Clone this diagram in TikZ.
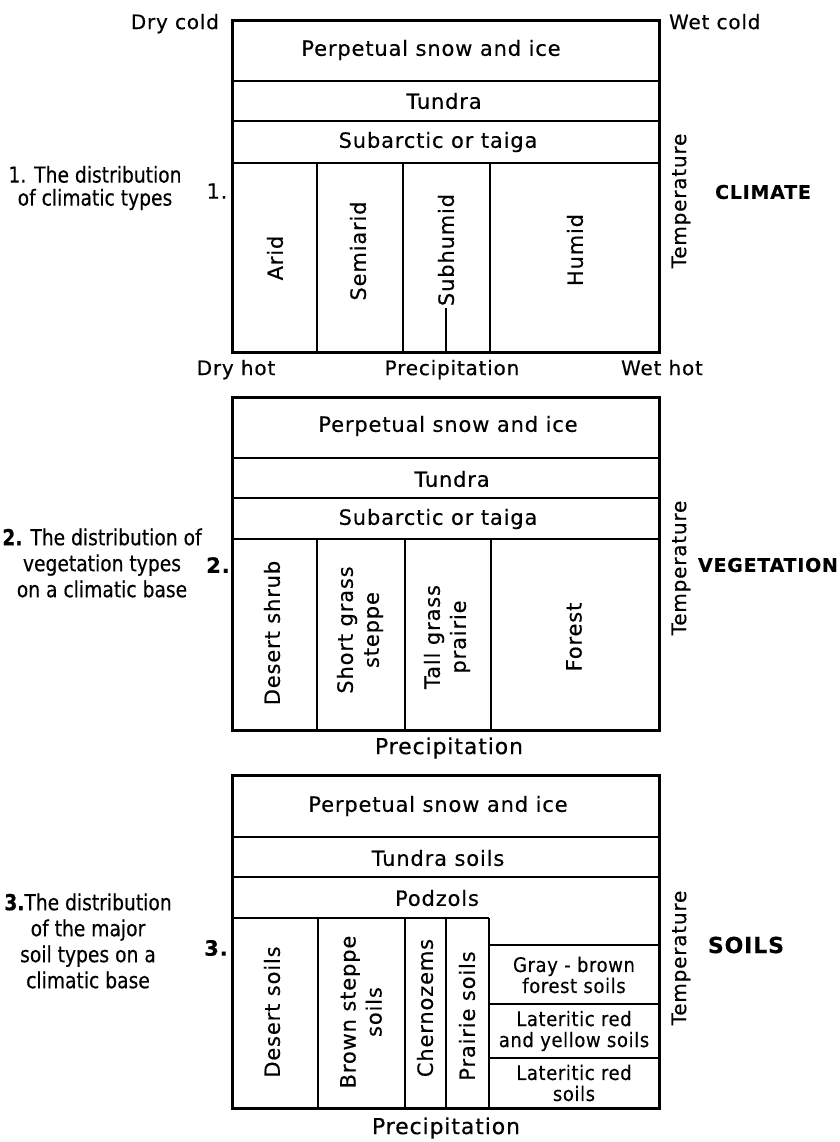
\documentclass[tikz,border=0pt]{standalone}
\usepackage{fontspec}
\setmainfont[LetterSpace=4,FakeBold=0.4]{DejaVu Sans}
\newfontfamily\sidefont[FakeStretch=0.85,FakeBold=0.4]{DejaVu Sans}
\newfontfamily\boxfont[FakeStretch=0.9,LetterSpace=3,FakeBold=0.4]{DejaVu Sans}
\tikzset{
  frame/.style={line width=1.5pt},
  divide/.style={line width=1pt},
  band/.style={font=\fontsize{10.5}{13}\selectfont},
  upright/.style={rotate=90,align=center,font=\fontsize{10.5}{13}\selectfont},
  axis/.style={font=\fontsize{10}{12}\selectfont,text height=1.6ex,text depth=.3ex},
  precip/.style={font=\fontsize{11}{13}\selectfont},
  caption/.style={align=center,font=\sidefont\fontsize{11}{13}\selectfont},
  heading/.style={font=\bfseries\fontsize{9.5}{11}\selectfont},
  soilbox/.style={align=center,font=\boxfont\fontsize{10}{10.5}\selectfont},
}
\begin{document}
\begin{tikzpicture}[x=0.5pt,y=-0.5pt]
	\useasboundingbox (0,0) rectangle (840,1142);
	\draw[frame] (232,20) rectangle (659,352);
	\draw[divide] (232,81)--(659,81) (232,121)--(659,121) (232,163)--(659,163);
	\draw[divide] (317,163)--(317,352) (403,163)--(403,352) (490,163)--(490,352);
	\draw[divide] (446,192)--(446,352);
	\node[band] (snow1) at (431,50) {Perpetual snow and ice};
	\node[band] (tundra1) at (444,101) {Tundra};
	\node[band] (taiga1) at (438,142) {Subarctic or taiga};
	\node[upright] (arid) at (275,258) {Arid};
	\node[upright] (semiarid) at (358,251) {Semiarid};
	\node[upright,fill=white,inner sep=1pt] (subhumid) at (446,250) {Subhumid};
	\node[upright] (humid) at (575,250) {Humid};
	\node[axis,anchor=east] (drycold) at (226,22) {Dry cold};
	\node[axis,anchor=west] (wetcold) at (662,22) {Wet cold};
	\node[axis] (dryhot) at (236,368) {Dry hot};
	\node[axis] (wethot) at (662,368) {Wet hot};
	\node[axis] (precip1) at (452,368) {Precipitation};
	\node[axis,rotate=90] (temp1) at (679,201) {Temperature};
	\node[heading] (climate) at (763,192) {CLIMATE};
	\node[band] (num1) at (217,191) {1.};
	\node[caption,font=\sidefont\fontsize{11}{11.5}\selectfont] (cap1) at (95,188) {1. The distribution\\of climatic types};

	\draw[frame] (232,397) rectangle (659,730);
	\draw[divide] (232,458)--(659,458) (232,498)--(659,498) (232,539)--(659,539);
	\draw[divide] (317,539)--(317,730) (405,539)--(405,730) (491,539)--(491,730);
	\node[band] (snow2) at (448,426) {Perpetual snow and ice};
	\node[band] (tundra2) at (452,479) {Tundra};
	\node[band] (taiga2) at (438,519) {Subarctic or taiga};
	\node[upright] (shrub) at (272,633) {Desert shrub};
	\node[upright] (steppe) at (360,630) {Short grass\\steppe};
	\node[upright] (prairie) at (447,637) {Tall grass\\prairie};
	\node[upright] (forest) at (574,637) {Forest};
	\node[precip] (precip2) at (449,748) {Precipitation};
	\node[axis,rotate=90] (temp2) at (679,568) {Temperature};
	\node[heading] (vegetation) at (768,565) {VEGETATION};
	\node[band,font=\bfseries\fontsize{10.5}{13}\selectfont] (num2) at (218,565) {2.};
	\node[caption] (cap2) at (102,563) {\textbf{2.} The distribution of\\vegetation types\\on a climatic base};

	\draw[frame] (232,775) rectangle (659,1108);
	\draw[divide] (232,837)--(659,837) (232,877)--(659,877) (232,918)--(489,918);
	\draw[divide] (318,918)--(318,1108) (405,918)--(405,1108) (446,918)--(446,1108) (489,918)--(489,1108);
	\draw[divide] (489,945)--(659,945) (489,1004)--(659,1004) (489,1058)--(659,1058);
	\node[band] (snow3) at (438,806) {Perpetual snow and ice};
	\node[band] (tundra3) at (438,858) {Tundra soils};
	\node[band] (podzols) at (437,898) {Podzols};
	\node[upright] (desertsoils) at (272,1012) {Desert soils};
	\node[upright] (brownsoils) at (361,1012) {Brown steppe\\soils};
	\node[upright] (chernozems) at (425,1008) {Chernozems};
	\node[upright] (prairiesoils) at (467,1016) {Prairie soils};
	\node[soilbox] (graybrown) at (574,975) {Gray - brown\\forest soils};
	\node[soilbox] (lateryellow) at (574,1031) {Lateritic red\\and yellow soils};
	\node[soilbox] (laterred) at (574,1083) {Lateritic red\\soils};
	\node[precip] (precip3) at (446,1128) {Precipitation};
	\node[axis,rotate=90] (temp3) at (679,958) {Temperature};
	\node[heading,font=\bfseries\fontsize{11}{13}\selectfont] (soils) at (746,945) {SOILS};
	\node[band,font=\bfseries\fontsize{10.5}{13}\selectfont] (num3) at (216,948) {3.};
	\node[caption] (cap3) at (88,941) {\textbf{3.}The distribution\\of the major\\soil types on a\\climatic base};
\end{tikzpicture}
\end{document}
